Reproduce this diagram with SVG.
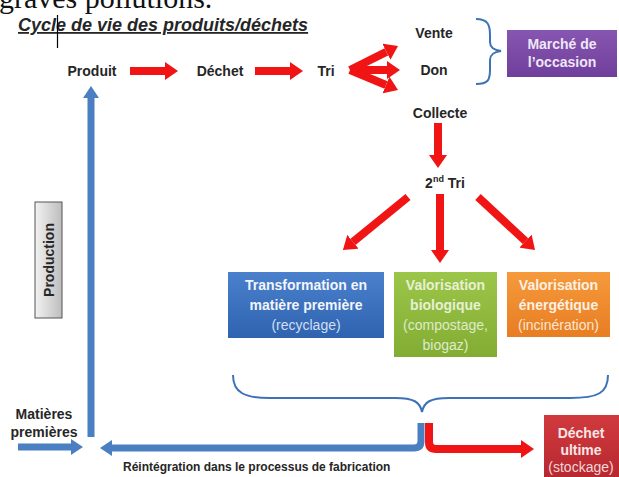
<svg xmlns="http://www.w3.org/2000/svg" width="619" height="477" viewBox="0 0 619 477">
<defs>
<style>
.lbl{font-family:"Liberation Sans",Arial,sans-serif;font-weight:bold;font-size:14px;fill:#262626;text-anchor:middle}
.bx{font-family:"Liberation Sans",Arial,sans-serif;font-weight:bold;font-size:14px;text-anchor:middle}
.bxr{font-family:"Liberation Sans",Arial,sans-serif;font-weight:normal;font-size:14px;text-anchor:middle}
.red{fill:none;stroke:#f01414;stroke-width:8}
.blue{fill:none;stroke:#4a7fc1;stroke-width:7}
.brace{fill:none;stroke:#3d72b8;stroke-width:2}
</style>
<marker id="ahr" markerUnits="userSpaceOnUse" markerWidth="13" markerHeight="18" viewBox="0 0 13 18" refX="0" refY="9" orient="auto"><path d="M0,0 L13,9 L0,18 z" fill="#f01414"/></marker>
<marker id="ahb" markerUnits="userSpaceOnUse" markerWidth="12" markerHeight="16" viewBox="0 0 12 16" refX="0" refY="8" orient="auto"><path d="M0,0 L12,8 L0,16 z" fill="#4a7fc1"/></marker>
<linearGradient id="gBlue" x1="0" y1="0" x2="0" y2="1"><stop offset="0" stop-color="#4a80cc"/><stop offset="1" stop-color="#2f63b0"/></linearGradient>
<linearGradient id="gGreen" x1="0" y1="0" x2="0" y2="1"><stop offset="0" stop-color="#9cc64a"/><stop offset="1" stop-color="#82ad32"/></linearGradient>
<linearGradient id="gOrange" x1="0" y1="0" x2="0" y2="1"><stop offset="0" stop-color="#f59a3c"/><stop offset="1" stop-color="#e87d22"/></linearGradient>
<linearGradient id="gPurple" x1="0" y1="0" x2="0" y2="1"><stop offset="0" stop-color="#8656b0"/><stop offset="1" stop-color="#6f3f9c"/></linearGradient>
<linearGradient id="gRed" x1="0" y1="0" x2="0" y2="1"><stop offset="0" stop-color="#d03a3e"/><stop offset="1" stop-color="#b82830"/></linearGradient>
<linearGradient id="gGray" x1="0" y1="0" x2="1" y2="0"><stop offset="0" stop-color="#f2f2f2"/><stop offset="1" stop-color="#bdbdbd"/></linearGradient>
</defs>
<rect width="619" height="477" fill="#ffffff"/>

<text x="-1" y="8" font-family="'Liberation Serif','Times New Roman',serif" font-size="30" fill="#111">graves pollutions.</text>

<g id="title">
<text x="18" y="31" font-family="'Liberation Sans',Arial,sans-serif" font-weight="bold" font-style="italic" font-size="18" fill="#262626" text-decoration="underline">Cycle de vie des produits/déchets</text>
<line x1="57.5" y1="15" x2="57.5" y2="48" stroke="#000" stroke-width="1.2"/>
</g>

<g id="connectors">
<line class="red" x1="130" y1="71" x2="165" y2="71" marker-end="url(#ahr)"/>
<line class="red" x1="255" y1="71" x2="290" y2="71" marker-end="url(#ahr)"/>
<line class="red" x1="350" y1="70" x2="386.4" y2="51.8" marker-end="url(#ahr)"/>
<line class="red" x1="350" y1="70" x2="387" y2="70" marker-end="url(#ahr)"/>
<line class="red" x1="350" y1="70" x2="386" y2="85" marker-end="url(#ahr)"/>
<line class="red" x1="438" y1="123" x2="438" y2="155" marker-end="url(#ahr)"/>
<line class="red" x1="408" y1="197" x2="353" y2="241.8" marker-end="url(#ahr)"/>
<line class="red" x1="440" y1="194" x2="440" y2="250" marker-end="url(#ahr)"/>
<line class="red" x1="478" y1="197" x2="525.5" y2="241.1" marker-end="url(#ahr)"/>
<path class="red" d="M429,423 L429,442 Q429,449 436,449 L521,449" stroke-width="7" marker-end="url(#ahr)"/>
<path class="blue" d="M421,423 L421,441 Q421,448 414,448 L112,448" stroke-width="8" marker-end="url(#ahb)"/>
<line class="blue" x1="91" y1="437" x2="91" y2="98" marker-end="url(#ahb)"/>
<line class="blue" x1="18" y1="447" x2="71" y2="447" marker-end="url(#ahb)"/>
<path class="brace" d="M476,19 C488,19 490,25 490,35 L490,42 C490,48 494,50 501,51 C494,52 490,54 490,60 L490,70 C490,80 488,84 476,84"/>
<path class="brace" d="M233,375 C233,393 245,398 270,398 L395,398 C414,398 420,402 422,412 C424,402 430,398 449,398 L570,398 C598,398 608,393 608,375"/>
</g>

<g id="produit"><text class="lbl" x="92" y="76">Produit</text></g>
<g id="dechet"><text class="lbl" x="220" y="76">Déchet</text></g>
<g id="tri"><text class="lbl" x="326" y="76">Tri</text></g>
<g id="vente"><text class="lbl" x="434" y="38">Vente</text></g>
<g id="don"><text class="lbl" x="434" y="75">Don</text></g>
<g id="collecte"><text class="lbl" x="440" y="118">Collecte</text></g>
<g id="tri2"><text class="lbl" x="445" y="188">2<tspan font-size="9" dy="-6">nd</tspan><tspan dy="6"> Tri</tspan></text></g>

<g id="marche">
<rect x="507" y="30" width="110" height="47" fill="url(#gPurple)"/>
<text class="bx" x="562" y="49" fill="#efe6f7">Marché de</text>
<text class="bx" x="562" y="67" fill="#efe6f7">l’occasion</text>
</g>

<g id="recyclage">
<rect x="228" y="272" width="156" height="66" fill="url(#gBlue)"/>
<text class="bx" x="306" y="290" fill="#f2f5fb">Transformation en</text>
<text class="bx" x="306" y="310" fill="#f2f5fb">matière première</text>
<text class="bxr" x="306" y="330" fill="#d2def2">(recyclage)</text>
</g>

<g id="biologique">
<rect x="394" y="272" width="103" height="85" fill="url(#gGreen)"/>
<text class="bx" x="445.5" y="290" fill="#e6f0d4">Valorisation</text>
<text class="bx" x="445.5" y="310" fill="#e6f0d4">biologique</text>
<text class="bxr" x="445.5" y="330" fill="#dfeacb">(compostage,</text>
<text class="bxr" x="445.5" y="350" fill="#dfeacb">biogaz)</text>
</g>

<g id="energetique">
<rect x="507" y="272" width="103" height="65" fill="url(#gOrange)"/>
<text class="bx" x="558.5" y="290" fill="#fdf0e2">Valorisation</text>
<text class="bx" x="558.5" y="310" fill="#fdf0e2">énergétique</text>
<text class="bxr" x="558.5" y="330" fill="#fbe6d2">(incinération)</text>
</g>

<g id="ultime">
<rect x="544" y="415" width="76" height="62" fill="url(#gRed)"/>
<text class="bx" x="581" y="438" fill="#f8e6e6">Déchet</text>
<text class="bx" x="581" y="455" fill="#f8e6e6">ultime</text>
<text class="bxr" x="581" y="472" fill="#f2d6d6">(stockage)</text>
</g>

<g id="production">
<rect x="35" y="202" width="27" height="116" fill="url(#gGray)" stroke="#555" stroke-width="1"/>
<text class="lbl" transform="translate(53.5,260) rotate(-90)" x="0" y="0" font-size="13">Production</text>
</g>

<g id="matieres">
<text class="lbl" x="44" y="419" font-size="14.5">Matières</text>
<text class="lbl" x="44" y="437" font-size="14.5">premières</text>
</g>

<g id="reintegration">
<text x="123" y="471" font-family="'Liberation Sans',Arial,sans-serif" font-weight="bold" font-size="12" fill="#262626">Réintégration dans le processus de fabrication</text>
</g>
</svg>
